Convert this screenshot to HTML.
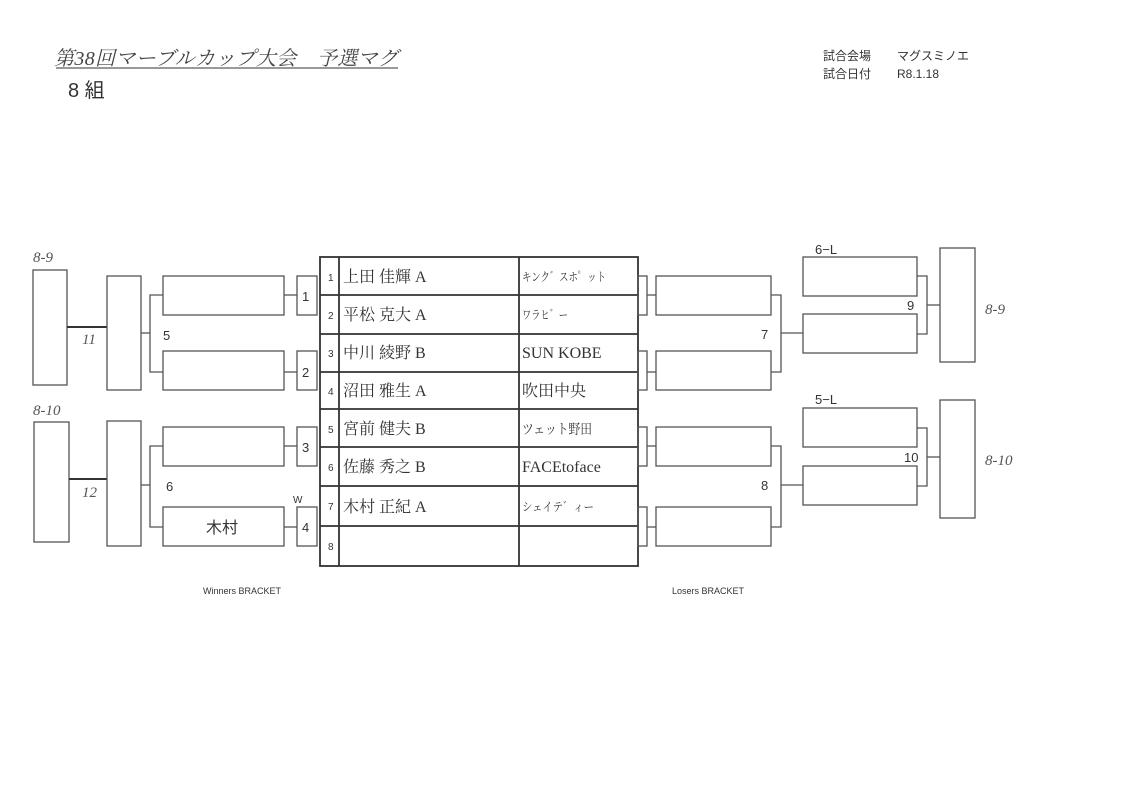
<!DOCTYPE html>
<html><head><meta charset="utf-8"><style>
html,body{margin:0;padding:0;background:#fff;}
body{width:1123px;height:794px;overflow:hidden;position:relative;font-family:"Liberation Sans","Noto Sans CJK JP",sans-serif;}
svg{position:absolute;left:0;top:0;}
</style></head><body>
<svg width="1123" height="794" viewBox="0 0 1123 794" xmlns="http://www.w3.org/2000/svg">
<g fill="none" stroke="#555" stroke-width="1.3">
<rect x="33" y="270" width="34" height="115"/>
<rect x="34" y="422" width="35" height="120"/>
<line x1="67" y1="327" x2="107" y2="327" stroke="#333" stroke-width="2"/>
<line x1="69" y1="479" x2="107" y2="479" stroke="#333" stroke-width="2"/>
<rect x="107" y="276" width="34" height="114"/>
<rect x="107" y="421" width="34" height="125"/>
<rect x="163" y="276" width="121" height="39"/>
<rect x="163" y="351" width="121" height="39"/>
<rect x="163" y="427" width="121" height="39"/>
<rect x="163" y="507" width="121" height="39"/>
<polyline points="163,295 150,295 150,372 163,372"/>
<line x1="141" y1="333" x2="150" y2="333"/>
<polyline points="163,446 150,446 150,527 163,527"/>
<line x1="141" y1="485" x2="150" y2="485"/>
<rect x="297" y="276" width="20" height="39"/>
<rect x="297" y="351" width="20" height="39"/>
<rect x="297" y="427" width="20" height="39"/>
<rect x="297" y="507" width="20" height="39"/>
<line x1="284" y1="295" x2="297" y2="295"/>
<line x1="284" y1="372" x2="297" y2="372"/>
<line x1="284" y1="446" x2="297" y2="446"/>
<line x1="284" y1="527" x2="297" y2="527"/>
<rect x="320" y="257" width="318" height="309" stroke="#333" stroke-width="1.8"/>
<line x1="339" y1="257" x2="339" y2="566" stroke="#333" stroke-width="1.8"/>
<line x1="519" y1="257" x2="519" y2="566" stroke="#333" stroke-width="1.8"/>
<g stroke="#333" stroke-width="1.8">
<line x1="320" y1="295" x2="638" y2="295"/>
<line x1="320" y1="334" x2="638" y2="334"/>
<line x1="320" y1="372" x2="638" y2="372"/>
<line x1="320" y1="409" x2="638" y2="409"/>
<line x1="320" y1="447" x2="638" y2="447"/>
<line x1="320" y1="486" x2="638" y2="486"/>
<line x1="320" y1="526" x2="638" y2="526"/>
</g>
<rect x="638" y="276" width="9" height="39"/>
<rect x="638" y="351" width="9" height="39"/>
<rect x="638" y="427" width="9" height="39"/>
<rect x="638" y="507" width="9" height="39"/>
<line x1="647" y1="295" x2="656" y2="295"/>
<line x1="647" y1="372" x2="656" y2="372"/>
<line x1="647" y1="446" x2="656" y2="446"/>
<line x1="647" y1="527" x2="656" y2="527"/>
<rect x="656" y="276" width="115" height="39"/>
<rect x="656" y="351" width="115" height="39"/>
<rect x="656" y="427" width="115" height="39"/>
<rect x="656" y="507" width="115" height="39"/>
<polyline points="771,295 781,295 781,372 771,372"/>
<line x1="781" y1="333" x2="803" y2="333"/>
<polyline points="771,446 781,446 781,527 771,527"/>
<line x1="781" y1="485" x2="803" y2="485"/>
<rect x="803" y="257" width="114" height="39"/>
<rect x="803" y="314" width="114" height="39"/>
<rect x="803" y="408" width="114" height="39"/>
<rect x="803" y="466" width="114" height="39"/>
<polyline points="917,276 927,276 927,334 917,334"/>
<line x1="927" y1="305" x2="940" y2="305"/>
<polyline points="917,428 927,428 927,486 917,486"/>
<line x1="927" y1="457" x2="940" y2="457"/>
<rect x="940" y="248" width="35" height="114"/>
<rect x="940" y="400" width="35" height="118"/>
<line x1="56" y1="68" x2="398" y2="68" stroke="#333" stroke-width="1"/>
</g>
<g fill="#333" font-family="Liberation Sans, Noto Sans CJK JP, sans-serif">
<text x="54" y="65" font-family="Liberation Serif, Noto Serif CJK SC, serif" font-style="italic" font-size="20" fill="#444" textLength="344">第38回マーブルカップ大会　予選マグ</text>
<text x="68" y="97" font-size="20">8 組</text>
<text x="823" y="60" font-size="12">試合会場</text><text x="897" y="60" font-size="12">マグスミノエ</text>
<text x="823" y="78" font-size="12">試合日付</text><text x="897" y="78" font-size="12">R8.1.18</text>
<g font-size="13">
<text x="163" y="340">5</text><text x="166" y="491">6</text>
<text x="302" y="301">1</text><text x="302" y="377">2</text><text x="302" y="452">3</text><text x="302" y="532">4</text>
<text x="293" y="503" font-size="10">W</text>
<text x="761" y="339">7</text><text x="761" y="490">8</text>
<text x="907" y="310">9</text><text x="904" y="462">10</text>
<text x="815" y="254">6−L</text><text x="815" y="404">5−L</text>
</g>
<text x="206" y="533" font-size="16">木村</text>
<text x="203" y="594" font-size="9">Winners BRACKET</text>
<text x="672" y="594" font-size="9">Losers BRACKET</text>
<g font-family="Liberation Serif, Noto Serif CJK SC, serif" font-style="italic" font-size="15" fill="#555">
<text x="33" y="262">8-9</text><text x="33" y="415">8-10</text>
<text x="82" y="344">11</text><text x="82" y="497">12</text>
<text x="985" y="314">8-9</text><text x="985" y="465">8-10</text>
</g>
<g font-size="10"><text x="328" y="281">1</text><text x="328" y="319">2</text><text x="328" y="357">3</text><text x="328" y="395">4</text><text x="328" y="433">5</text><text x="328" y="471">6</text><text x="328" y="510">7</text><text x="328" y="550">8</text></g>
<g font-family="Liberation Serif, Noto Serif CJK SC, serif" font-size="16">
<text x="343" y="282">上田 佳輝 A</text>
<text x="343" y="320">平松 克大 A</text>
<text x="343" y="358">中川 綾野 B</text>
<text x="343" y="396">沼田 雅生 A</text>
<text x="343" y="434">宮前 健夫 B</text>
<text x="343" y="472">佐藤 秀之 B</text>
<text x="343" y="512">木村 正紀 A</text>
<text x="522" y="281" font-size="12" textLength="84" lengthAdjust="spacingAndGlyphs">キンク゛スホ゜ット</text>
<text x="522" y="319" font-size="12" textLength="46" lengthAdjust="spacingAndGlyphs">ワラヒ゛ー</text>
<text x="522" y="358">SUN KOBE</text>
<text x="522" y="396">吹田中央</text>
<text x="522" y="434" font-size="14" textLength="70" lengthAdjust="spacingAndGlyphs">ツェット野田</text>
<text x="522" y="472">FACEtoface</text>
<text x="522" y="511" font-size="12" textLength="72" lengthAdjust="spacingAndGlyphs">シェイテ゛ィー</text>
</g>
</g>
</svg>
</body></html>
